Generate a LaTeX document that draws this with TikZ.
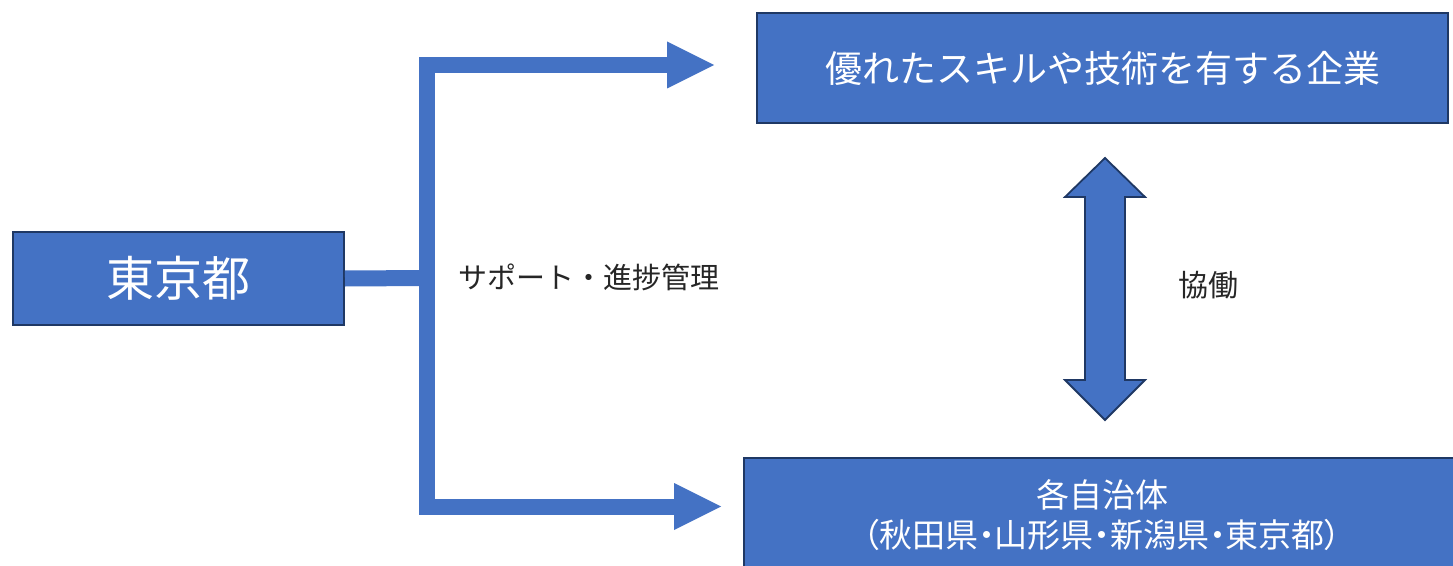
\documentclass[tikz,border=0pt]{standalone}
\usepackage{fontspec}
\setmainfont{Noto Sans CJK JP}
\newfontfamily\jpp[RawFeature=+palt]{Noto Sans CJK JP}
\usetikzlibrary{arrows.meta}
\definecolor{boxblue}{HTML}{4472C4}
\definecolor{boxline}{HTML}{1F3864}
\definecolor{txt}{HTML}{262626}
\begin{document}
\begin{tikzpicture}[x=1bp,y=-1bp]
\useasboundingbox (0,0) rectangle (1453,566);
\tikzset{
 bluebox/.style={draw=boxline, line width=2bp, fill=boxblue, text=white, inner sep=0pt, anchor=center},
 conn/.style={draw=boxblue, line width=16bp, line join=miter, line cap=butt},
 conntip/.style={-{Triangle[length=47bp,width=47bp,line width=0pt]}},
 lbl/.style={text=txt, inner sep=0pt}
}
\node[bluebox, minimum width=331bp, minimum height=93bp, font=\fontsize{48bp}{56bp}\selectfont] (tokyo) at (178.5,278.5) {東京都};
\node[bluebox, minimum width=691bp, minimum height=110bp, font=\fontsize{37bp}{44bp}\selectfont] (firm) at (1102.5,68) {優れたスキルや技術を有する企業};
\begin{scope}
\clip (0,0) rectangle (1453,566);
\node[bluebox, minimum width=716bp, minimum height=114bp, align=center, font=\fontsize{33bp}{40bp}\selectfont] (local) at (1102,515) {各自治体\\{\jpp （秋田県・山形県・新潟県・東京都）}};
\end{scope}
\coordinate (junc) at (427,278);
\coordinate (toptip) at (714,65);
\coordinate (bottip) at (721,506.5);
\draw[conn] (tokyo.east) -- (junc);
\draw[conn, conntip] (junc) |- (toptip);
\draw[conn, conntip] (junc) |- (bottip);
\coordinate (dtop) at (1105,158);
\coordinate (dbot) at (1105,420);
\draw[draw=boxline, line width=1.8bp, fill=boxblue, line join=miter] (dtop) -- (1145,197) -- (1125,197) -- (1125,380) -- (1145,380) -- (dbot) -- (1065,380) -- (1085,380) -- (1085,197) -- (1065,197) -- cycle;
\node[lbl, font=\fontsize{29bp}{34bp}\selectfont] (support) at (589,277) {サポート・進捗管理};
\node[lbl, font=\fontsize{30bp}{36bp}\selectfont] (kyodo) at (1208,285) {協働};
\end{tikzpicture}
\end{document}
